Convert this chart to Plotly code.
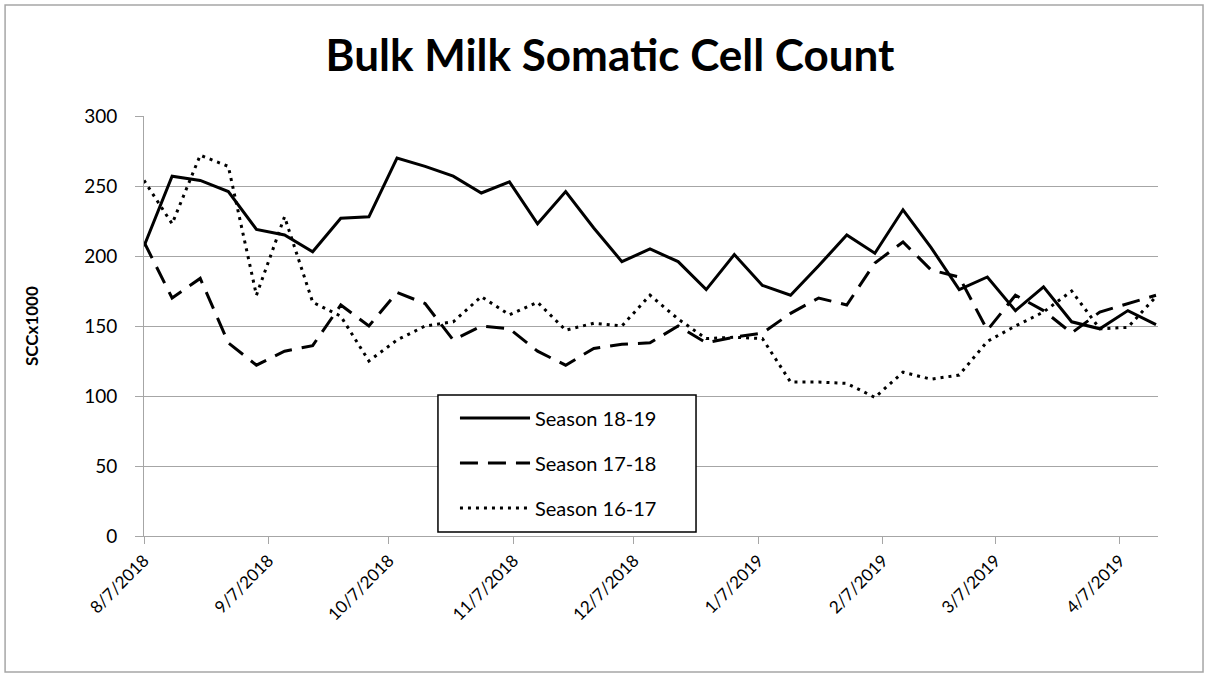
import plotly.graph_objects as go

# Weekly bulk milk sampling dates (aligned on the 18-19 season calendar)
sample_dates = [
    "2018-08-07", "2018-08-14", "2018-08-21", "2018-08-28",
    "2018-09-04", "2018-09-11", "2018-09-18", "2018-09-25",
    "2018-10-02", "2018-10-09", "2018-10-16", "2018-10-23", "2018-10-30",
    "2018-11-06", "2018-11-13", "2018-11-20", "2018-11-27",
    "2018-12-04", "2018-12-11", "2018-12-18", "2018-12-25",
    "2019-01-01", "2019-01-08", "2019-01-15", "2019-01-22", "2019-01-29",
    "2019-02-05", "2019-02-12", "2019-02-19", "2019-02-26",
    "2019-03-05", "2019-03-12", "2019-03-19", "2019-03-26",
    "2019-04-02", "2019-04-09", "2019-04-16",
]

# SCC x1000 per season
season_18_19 = [207, 257, 254, 246, 219, 215, 203, 227, 228, 270, 264, 257, 245,
                253, 223, 246, 220, 196, 205, 196, 176, 201, 179, 172, 193, 215,
                202, 233, 206, 176, 185, 161, 178, 153, 148, 161, 151]
season_17_18 = [210, 170, 184, 138, 122, 132, 136, 165, 150, 174, 166, 140, 150,
                148, 132, 122, 134, 137, 138, 150, 138, 142, 145, 159, 170, 165,
                195, 210, 190, 185, 147, 172, 161, 145, 160, 166, 172]
season_16_17 = [254, 223, 272, 264, 172, 228, 167, 157, 125, 140, 150, 153, 171,
                158, 167, 147, 152, 150, 172, 155, 141, 142, 141, 110, 110, 109,
                99, 117, 112, 115, 139, 150, 160, 175, 148, 149, 171]

season_names = ["Season 18-19", "Season 17-18", "Season 16-17"]

# Month ticks on the 7th
tick_dates = ["2018-08-07", "2018-09-07", "2018-10-07", "2018-11-07", "2018-12-07",
              "2019-01-07", "2019-02-07", "2019-03-07", "2019-04-07"]
tick_text = ["8/7/2018", "9/7/2018", "10/7/2018", "11/7/2018", "12/7/2018",
             "1/7/2019", "2/7/2019", "3/7/2019", "4/7/2019"]

FONT = "Lato"
GRID = "#a6a6a6"
DASHES = ["solid", "18px,10px", "3px,5px"]

fig = go.Figure()
for name, vals, dash in zip(season_names, [season_18_19, season_17_18, season_16_17], DASHES):
    fig.add_trace(go.Scatter(
        x=sample_dates, y=vals, name=name, mode="lines",
        line=dict(color="black", width=3, dash=dash),
    ))

# Boxed key inside the plot area
key_rows = [0.281, 0.1738, 0.0667]
shapes = [
    # outer chart frame
    dict(type="rect", xref="paper", yref="paper",
         x0=-0.137, x1=1.0444, y0=-0.324, y1=1.264,
         line=dict(color=GRID, width=1.5), fillcolor="rgba(0,0,0,0)", layer="below"),
    # key box
    dict(type="rect", xref="paper", yref="paper",
         x0=0.2899, x1=0.5444, y0=0.0095, y1=0.3357,
         line=dict(color="black", width=1.5), fillcolor="white", layer="above"),
]
annotations = [
    dict(text="<b>SCCx1000</b>", xref="paper", yref="paper", x=-0.1114, y=0.5,
         xanchor="center", yanchor="middle", textangle=-90, showarrow=False,
         font=dict(family=FONT, size=17, color="black")),
]
for name, dash, ky in zip(season_names, DASHES, key_rows):
    shapes.append(dict(type="line", xref="paper", yref="paper",
                       x0=0.3116, x1=0.3807, y0=ky, y1=ky,
                       line=dict(color="black", width=3, dash=dash), layer="above"))
    annotations.append(dict(text=name, xref="paper", yref="paper", x=0.3836, y=ky,
                            xanchor="left", yanchor="middle", showarrow=False,
                            font=dict(family=FONT, size=20, color="black")))

fig.update_layout(
    width=1208, height=677,
    margin=dict(l=144, r=50, t=116, b=141),
    paper_bgcolor="white", plot_bgcolor="white",
    font=dict(family=FONT, size=19, color="black"),
    title=dict(text="<b>Bulk Milk Somatic Cell Count</b>",
               font=dict(family=FONT, size=44, color="black"),
               x=0.505, xanchor="center", y=0.918, yanchor="middle"),
    showlegend=False,
    xaxis=dict(
        type="date",
        range=["2018-08-07", "2019-04-16 12:00"],
        tickvals=tick_dates, ticktext=tick_text, tickangle=-45,
        showgrid=False, showline=True, linecolor=GRID, linewidth=1,
        ticks="outside", ticklen=7, tickcolor=GRID,
        tickfont=dict(family=FONT, size=17),
        zeroline=False,
    ),
    yaxis=dict(
        range=[0, 300], dtick=50,
        showgrid=True, gridcolor=GRID, gridwidth=1,
        showline=True, linecolor=GRID, linewidth=1,
        ticks="outside", ticklen=8, tickcolor=GRID,
        tickfont=dict(family=FONT, size=19), ticklabelstandoff=14,
        zeroline=False,
    ),
    shapes=shapes,
    annotations=annotations,
)

fig.write_html("out.html")
